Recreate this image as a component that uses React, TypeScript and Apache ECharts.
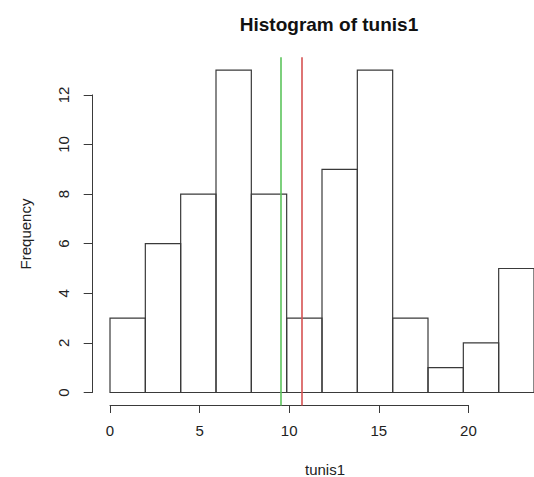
import React, { useEffect, useRef } from 'react';
import * as echarts from 'echarts';

// Histogram bins (left edges), width and frequencies
const binStarts = [0, 2, 4, 6, 8, 10, 12, 14, 16, 18, 20, 22];
const binWidth = 2;
const counts = [3, 6, 8, 13, 8, 3, 9, 13, 3, 1, 2, 5];

// Vertical reference lines
const greenLineX = 9.65;
const redLineX = 10.84;

// Axis tick ranges
const xTickMin = 0;
const xTickMax = 20;
const xTickStep = 5;
const yTickMin = 0;
const yTickMax = 12;
const yTickStep = 2;

const titleText = 'Histogram of tunis1';
const xName = 'tunis1';
const yName = 'Frequency';

const FONT = '"Liberation Sans", Arial, Helvetica, sans-serif';
const INK = '#3a3a3a';
const TXT = '#222';

export default function App() {
  const ref = useRef<HTMLDivElement>(null);

  useEffect(() => {
    if (!ref.current) return;
    const chart = echarts.init(ref.current, undefined, { renderer: 'svg' });

    const pxPerX = 17.92;
    const pxPerY = 24.8;
    const x0 = 110;
    const y0 = 392.5;
    const yLo = -0.52;
    const yHi = 13.52;

    const binData = binStarts.map((s, i) => [s, s + binWidth, counts[i]]);

    const option: any = {
      animation: false,
      backgroundColor: '#ffffff',
      title: {
        text: titleText,
        left: 324,
        top: 10,
        textAlign: 'center',
        textStyle: { fontFamily: FONT, fontSize: 19, fontWeight: 'bold', color: '#111' },
      },
      grid: [
        {
          left: x0,
          width: 24 * pxPerX,
          top: y0 - yHi * pxPerY,
          height: (yHi - yLo) * pxPerY,
        },
        {
          left: x0,
          width: (xTickMax - xTickMin) * pxPerX,
          top: 400,
          height: 5,
        },
        {
          left: 92.7,
          width: 5,
          top: y0 - yTickMax * pxPerY,
          height: (yTickMax - yTickMin) * pxPerY,
        },
      ],
      xAxis: [
        { gridIndex: 0, type: 'value', min: 0, max: 24, show: false },
        {
          gridIndex: 1,
          type: 'value',
          min: xTickMin,
          max: xTickMax,
          interval: xTickStep,
          position: 'bottom',
          axisLine: { show: true, onZero: false, lineStyle: { color: INK, width: 1 } },
          axisTick: { show: true, length: 8, inside: false, lineStyle: { color: INK, width: 1 } },
          axisLabel: { show: true, margin: 18, fontFamily: FONT, fontSize: 15, color: TXT },
          splitLine: { show: false },
        },
        { gridIndex: 2, type: 'value', min: 0, max: 1, show: false },
      ],
      yAxis: [
        { gridIndex: 0, type: 'value', min: yLo, max: yHi, show: false },
        { gridIndex: 1, type: 'value', min: 0, max: 1, show: false },
        {
          gridIndex: 2,
          type: 'value',
          min: yTickMin,
          max: yTickMax,
          interval: yTickStep,
          position: 'left',
          axisLine: { show: true, onZero: false, lineStyle: { color: INK, width: 1 } },
          axisTick: { show: true, length: 9, inside: false, lineStyle: { color: INK, width: 1 } },
          axisLabel: { show: true, rotate: 90, margin: 22, fontFamily: FONT, fontSize: 15, color: TXT },
          splitLine: { show: false },
        },
      ],
      graphic: [
        {
          type: 'text',
          x: 25,
          y: 234,
          rotation: Math.PI / 2,
          style: {
            text: yName,
            fontFamily: FONT,
            fontSize: 15,
            fill: TXT,
            textAlign: 'center',
            textVerticalAlign: 'middle',
          },
        },
        {
          type: 'text',
          x: 325,
          y: 469,
          style: {
            text: xName,
            fontFamily: FONT,
            fontSize: 15,
            fill: TXT,
            textAlign: 'center',
            textVerticalAlign: 'middle',
          },
        },
      ],
      series: [
        {
          type: 'custom',
          xAxisIndex: 0,
          yAxisIndex: 0,
          z: 2,
          data: binData,
          encode: { x: [0, 1], y: 2 },
          renderItem: (params: any, api: any) => {
            const s = api.value(0);
            const e = api.value(1);
            const c = api.value(2);
            const p0 = api.coord([s, 0]);
            const p1 = api.coord([e, c]);
            return {
              type: 'rect',
              shape: { x: p0[0], y: p1[1], width: p1[0] - p0[0], height: p0[1] - p1[1] },
              style: { fill: 'none', stroke: INK, lineWidth: 1.2 },
            };
          },
        },
        {
          type: 'line',
          xAxisIndex: 0,
          yAxisIndex: 0,
          z: 5,
          data: [],
          markLine: {
            symbol: 'none',
            silent: true,
            label: { show: false },
            data: [
              { xAxis: greenLineX, lineStyle: { color: '#5cc45c', width: 1.6, type: 'solid' } },
              { xAxis: redLineX, lineStyle: { color: '#d65252', width: 1.6, type: 'solid' } },
            ],
          },
        },
      ],
    };

    chart.setOption(option);
    return () => chart.dispose();
  }, []);

  return (
    <div
      ref={ref}
      style={{ position: 'fixed', left: 0, top: 0, width: 534, height: 477, background: '#fff' }}
    />
  );
}
